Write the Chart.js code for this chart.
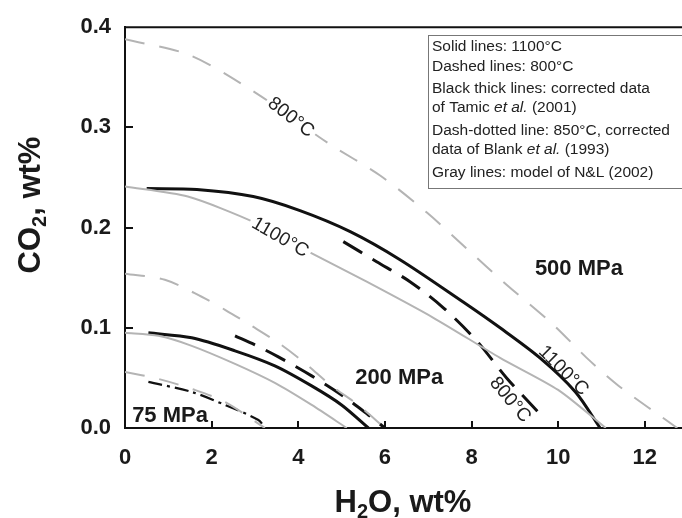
<!DOCTYPE html>
<html>
<head>
<meta charset="utf-8">
<title>CO2 vs H2O solubility</title>
<script src="https://cdn.jsdelivr.net/npm/chart.js"></script>
<style>
  html, body { margin: 0; padding: 0; background: #fff; }
</style>
</head>
<body>
<canvas id="chart" width="682" height="518"></canvas>
<script>
// axis ticks
const xTicks = [0, 2, 4, 6, 8, 10, 12];
const yTicks = [0.0, 0.1, 0.2, 0.3, 0.4];

// 500 MPa
const h2oModel800_500 = [0, 1.5, 3.0, 4.7, 5.89, 6.97, 7.89, 8.81, 9.89, 10.66, 11.4, 12.75];
const co2Model800_500 = [0.388, 0.372, 0.335, 0.284, 0.252, 0.215, 0.179, 0.143, 0.103, 0.070, 0.042, 0];
const h2oModel1100_500 = [0, 1.45, 3.0, 4.19, 5.58, 7.12, 8.66, 10.0, 11.1];
const co2Model1100_500 = [0.241, 0.231, 0.205, 0.177, 0.146, 0.110, 0.070, 0.038, 0];
const h2oTamic1100_500 = [0.5, 1.66, 2.96, 4.04, 5.2, 6.35, 7.8, 8.66, 9.58, 10.4, 10.97];
const co2Tamic1100_500 = [0.239, 0.238, 0.231, 0.217, 0.196, 0.168, 0.126, 0.100, 0.070, 0.036, 0];
const h2oTamic800_500 = [5.04, 5.81, 6.58, 7.35, 8.12, 8.81, 9.58];
const co2Tamic800_500 = [0.186, 0.166, 0.146, 0.120, 0.087, 0.050, 0.014];

// 200 MPa
const h2oModel800_200 = [0, 0.92, 1.77, 2.31, 2.92, 3.54, 4.15, 4.77, 5.38, 6.0];
const co2Model800_200 = [0.154, 0.148, 0.131, 0.118, 0.102, 0.085, 0.065, 0.042, 0.023, 0];
const h2oModel1100_200 = [0, 0.77, 1.54, 2.54, 3.46, 4.31, 5.12];
const co2Model1100_200 = [0.095, 0.092, 0.082, 0.064, 0.045, 0.023, 0];
const h2oTamic1100_200 = [0.54, 1.54, 2.54, 3.46, 4.31, 5.0, 5.62];
const co2Tamic1100_200 = [0.095, 0.090, 0.077, 0.062, 0.042, 0.023, 0];
const h2oTamic800_200 = [2.54, 3.0, 3.54, 4.31, 5.0, 5.62, 6.0];
const co2Tamic800_200 = [0.092, 0.083, 0.071, 0.052, 0.033, 0.013, 0];

// 75 MPa
const h2oModel800_75 = [0, 0.77, 1.54, 2.31, 3.23];
const co2Model800_75 = [0.056, 0.049, 0.039, 0.026, 0];
const h2oBlank850_75 = [0.54, 1.54, 2.31, 3.08, 3.23];
const co2Blank850_75 = [0.046, 0.036, 0.023, 0.008, 0];

const pts = (xs, ys) => xs.map((x, i) => ({ x: x, y: ys[i] }));

const GRAY = '#b4b4b4';
const INK = '#111';

const grayDashed = { borderColor: GRAY, borderWidth: 2, borderDash: [20, 15], tension: 0.3 };
const graySolid = { borderColor: GRAY, borderWidth: 2, tension: 0.25 };
const blackSolid = { borderColor: INK, borderWidth: 3, tension: 0.3 };
const blackDashed = { borderColor: INK, borderWidth: 3, borderDash: [22, 12], tension: 0.3 };
const dashDot = { borderColor: INK, borderWidth: 2.2, borderDash: [14, 5, 3, 5], tension: 0.3 };

const datasets = [
  Object.assign({ label: '800°C model 500 MPa', data: pts(h2oModel800_500, co2Model800_500) }, grayDashed),
  Object.assign({ label: '1100°C model 500 MPa', data: pts(h2oModel1100_500, co2Model1100_500) }, graySolid),
  Object.assign({ label: '800°C model 200 MPa', data: pts(h2oModel800_200, co2Model800_200) }, grayDashed),
  Object.assign({ label: '1100°C model 200 MPa', data: pts(h2oModel1100_200, co2Model1100_200) }, graySolid),
  Object.assign({ label: '800°C model 75 MPa', data: pts(h2oModel800_75, co2Model800_75) }, grayDashed),
  Object.assign({ label: '1100°C Tamic 500 MPa', data: pts(h2oTamic1100_500, co2Tamic1100_500) }, blackSolid),
  Object.assign({ label: '800°C Tamic 500 MPa', data: pts(h2oTamic800_500, co2Tamic800_500) }, blackDashed),
  Object.assign({ label: '1100°C Tamic 200 MPa', data: pts(h2oTamic1100_200, co2Tamic1100_200) }, blackSolid),
  Object.assign({ label: '800°C Tamic 200 MPa', data: pts(h2oTamic800_200, co2Tamic800_200) }, blackDashed),
  Object.assign({ label: '850°C Blank 75 MPa', data: pts(h2oBlank850_75, co2Blank850_75) }, dashDot)
];
datasets.forEach(d => { d.showLine = true; d.pointRadius = 0; d.fill = false; });

// annotations on the plot (data coordinates)
const curveLabels = [
  { text: '800°C', x: 3.83, y: 0.310, rot: 38, knockout: true },
  { text: '1100°C', x: 3.58, y: 0.190, rot: 30, knockout: true },
  { text: '1100°C', x: 10.12, y: 0.057, rot: 45, knockout: false },
  { text: '800°C', x: 8.89, y: 0.028, rot: 50, knockout: false }
];
const pressureLabels = [
  { text: '500 MPa', x: 10.48, y: 0.159 },
  { text: '200 MPa', x: 6.33, y: 0.050 },
  { text: '75 MPa', x: 1.04, y: 0.012 }
];
const legendLines = [
  [['Solid lines: 1100°C', false]],
  [['Dashed lines: 800°C', false]],
  [['Black thick lines: corrected data', false]],
  [['of Tamic ', false], ['et al.', true], [' (2001)', false]],
  [['Dash-dotted line: 850°C, corrected', false]],
  [['data of Blank ', false], ['et al.', true], [' (1993)', false]],
  [['Gray lines: model of N&L (2002)', false]]
];
const legendY = [47, 67, 89, 108, 131, 150, 173];

const FONT = 'Arial, "Liberation Sans", sans-serif';

const decor = {
  id: 'decor',
  afterDraw(chart) {
    const ctx = chart.ctx;
    const a = chart.chartArea;
    const xs = chart.scales.x, ys = chart.scales.y;
    ctx.save();

    // top frame line
    ctx.strokeStyle = INK;
    ctx.lineWidth = 2;
    ctx.beginPath();
    ctx.moveTo(a.left - 1, a.top);
    ctx.lineTo(a.right, a.top);
    ctx.stroke();

    // inward tick marks
    ctx.beginPath();
    xTicks.slice(1).forEach(v => {
      const px = Math.round(xs.getPixelForValue(v));
      ctx.moveTo(px, a.bottom);
      ctx.lineTo(px, a.bottom - 7);
    });
    yTicks.slice(1, -1).forEach(v => {
      const py = Math.round(ys.getPixelForValue(v));
      ctx.moveTo(a.left, py);
      ctx.lineTo(a.left + 8, py);
    });
    ctx.stroke();

    // curve labels
    ctx.textAlign = 'center';
    ctx.textBaseline = 'middle';
    ctx.font = '19px ' + FONT;
    curveLabels.forEach(l => {
      ctx.save();
      ctx.translate(xs.getPixelForValue(l.x), ys.getPixelForValue(l.y));
      ctx.rotate(l.rot * Math.PI / 180);
      if (l.knockout) {
        const w = ctx.measureText(l.text).width;
        ctx.fillStyle = '#fff';
        ctx.fillRect(-w / 2 - 3, -10, w + 6, 20);
      }
      ctx.fillStyle = '#222';
      ctx.fillText(l.text, 0, 0);
      ctx.restore();
    });

    // pressure labels
    ctx.font = 'bold 22px ' + FONT;
    ctx.fillStyle = '#1a1a1a';
    pressureLabels.forEach(l => {
      ctx.fillText(l.text, xs.getPixelForValue(l.x), ys.getPixelForValue(l.y));
    });

    // legend box
    ctx.fillStyle = '#fff';
    ctx.fillRect(428.5, 35.5, 260, 153);
    ctx.strokeStyle = '#777';
    ctx.lineWidth = 1;
    ctx.strokeRect(428.5, 35.5, 260, 153);
    ctx.textAlign = 'left';
    ctx.fillStyle = '#222';
    legendLines.forEach((parts, i) => {
      let x = 432;
      parts.forEach(p => {
        ctx.font = (p[1] ? 'italic ' : '') + '15.5px ' + FONT;
        ctx.fillText(p[0], x, legendY[i]);
        x += ctx.measureText(p[0]).width;
      });
    });

    // axis titles with subscripts
    const title = (pre, sub, post, cx, cy, rot) => {
      ctx.save();
      ctx.translate(cx, cy);
      ctx.rotate(rot);
      ctx.fillStyle = '#1a1a1a';
      ctx.textBaseline = 'alphabetic';
      const big = 'bold 31px ' + FONT, small = 'bold 20px ' + FONT;
      ctx.font = big; const w1 = ctx.measureText(pre).width, w3 = ctx.measureText(post).width;
      ctx.font = small; const w2 = ctx.measureText(sub).width;
      let x = -(w1 + w2 + w3) / 2;
      ctx.font = big; ctx.fillText(pre, x, 11); x += w1;
      ctx.font = small; ctx.fillText(sub, x, 17); x += w2;
      ctx.font = big; ctx.fillText(post, x, 11);
      ctx.restore();
    };
    title('H', '2', 'O, wt%', 403, 501, 0);
    title('CO', '2', ', wt%', 29, 205, -Math.PI / 2);

    ctx.restore();
  }
};

new Chart(document.getElementById('chart'), {
  type: 'scatter',
  data: { datasets: datasets },
  options: {
    responsive: false,
    animation: false,
    devicePixelRatio: 1,
    layout: { padding: { top: 23, right: 0, left: 0, bottom: 0 } },
    plugins: { legend: { display: false }, tooltip: { enabled: false } },
    scales: {
      x: {
        type: 'linear', min: 0, max: 12.86,
        afterBuildTicks: s => { s.ticks = xTicks.map(v => ({ value: v })); },
        afterFit: s => { s.height = 90; },
        grid: { display: false, drawTicks: false },
        border: { display: true, color: INK, width: 2 },
        ticks: { color: '#1a1a1a', padding: 17, font: { family: FONT, size: 22, weight: 'bold' } }
      },
      y: {
        type: 'linear', min: 0, max: 0.4,
        afterBuildTicks: s => { s.ticks = yTicks.map(v => ({ value: v })); },
        afterFit: s => { s.width = 125; },
        grid: { display: false, drawTicks: false },
        border: { display: true, color: INK, width: 2 },
        ticks: { color: '#1a1a1a', padding: 14, font: { family: FONT, size: 22, weight: 'bold' },
                 callback: v => v.toFixed(1) }
      }
    }
  },
  plugins: [decor]
});
</script>
</body>
</html>
